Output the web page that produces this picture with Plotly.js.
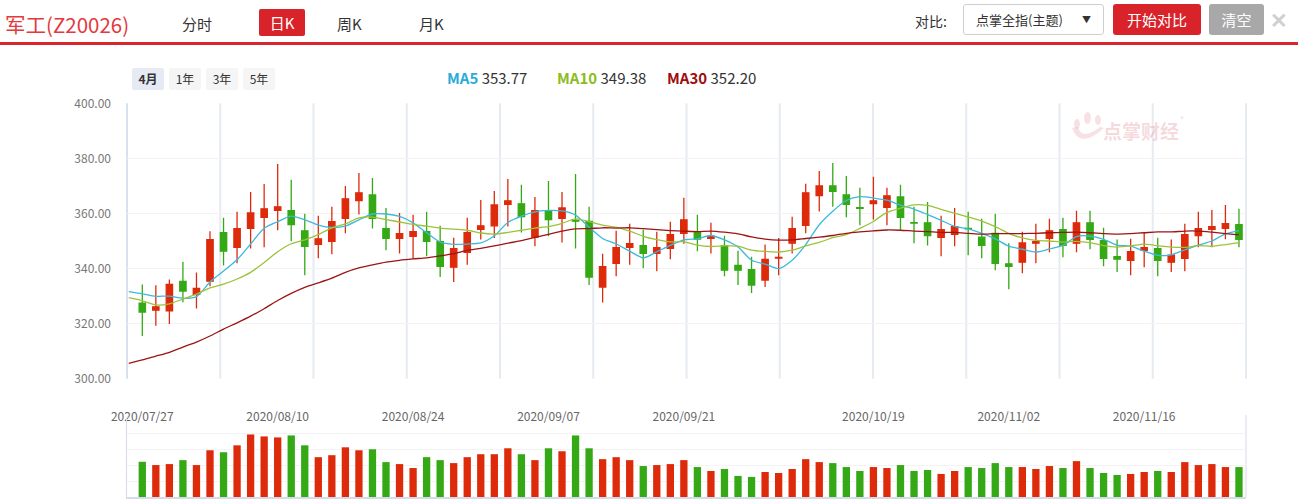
<!DOCTYPE html>
<html><head><meta charset="utf-8">
<script src="https://cdn.plot.ly/plotly-3.0.1.min.js"></script>
<style>
html,body{margin:0;padding:0;background:#fff;width:1298px;height:499px;overflow:hidden;font-family:"Noto Sans CJK SC","Noto Sans",sans-serif;}
#chart{position:absolute;left:0;top:0;width:1298px;height:499px;}
.abs{position:absolute;white-space:nowrap;}
.tab{top:11px;height:26px;line-height:26px;font-size:15px;color:#333;}
.rb{top:68px;height:22px;line-height:22px;width:32px;text-align:center;font-size:12px;color:#333;background:#f5f5f5;border-radius:2px;}
.lg{display:inline-block;width:110px;}
</style></head><body>
<div id="chart"></div>
<div class="abs" style="left:5px;top:9px;height:30px;line-height:30px;font-size:20.5px;color:#e4393c;">军工(Z20026)</div>
<div class="abs tab" style="left:182px;">分时</div>
<div class="abs" style="left:259px;top:9px;width:46px;height:27px;line-height:27px;text-align:center;background:#d9232a;color:#fff;font-size:15px;border-radius:2px;">日K</div>
<div class="abs tab" style="left:337px;">周K</div>
<div class="abs tab" style="left:419px;">月K</div>
<div class="abs" style="left:0;top:42px;width:1298px;height:3px;background:#d9262c;"></div>
<div class="abs" style="left:915px;top:9px;height:24px;line-height:24px;font-size:14px;color:#333;">对比:</div>
<div class="abs" style="left:963px;top:4px;width:139px;height:29px;border:1px solid #cfcfcf;border-radius:3px;"></div>
<div class="abs" style="left:976px;top:8px;height:24px;line-height:24px;font-size:13px;color:#333;">点掌全指(主题)</div>
<div class="abs" style="left:1082px;top:8px;height:24px;line-height:24px;font-size:9px;color:#333;">▼</div>
<div class="abs" style="left:1113px;top:4px;width:88px;height:31px;line-height:31px;text-align:center;background:#d9232a;color:#fff;font-size:15px;border-radius:3px;">开始对比</div>
<div class="abs" style="left:1209px;top:4px;width:55px;height:31px;line-height:31px;text-align:center;background:#a8a8a8;color:#fff;font-size:15px;border-radius:3px;">清空</div>
<div class="abs" style="left:1270px;top:4px;height:30px;line-height:30px;font-size:21px;font-weight:bold;color:#d0d0d0;">✕</div>
<div class="abs rb" style="left:132px;background:#e6eaf4;font-weight:bold;">4月</div>
<div class="abs rb" style="left:169px;">1年</div>
<div class="abs rb" style="left:206px;">3年</div>
<div class="abs rb" style="left:243px;">5年</div>
<div class="abs" id="legend" style="left:447px;top:66px;height:24px;line-height:24px;font-size:15px;color:#333;"></div>
<script>
// ---------- data ----------
const prevDate = '2020/07/24';
const dates = [
 '2020/07/27','2020/07/28','2020/07/29','2020/07/30','2020/07/31',
 '2020/08/03','2020/08/04','2020/08/05','2020/08/06','2020/08/07',
 '2020/08/10','2020/08/11','2020/08/12','2020/08/13','2020/08/14',
 '2020/08/17','2020/08/18','2020/08/19','2020/08/20','2020/08/21',
 '2020/08/24','2020/08/25','2020/08/26','2020/08/27','2020/08/28',
 '2020/08/31','2020/09/01','2020/09/02','2020/09/03','2020/09/04',
 '2020/09/07','2020/09/08','2020/09/09','2020/09/10','2020/09/11',
 '2020/09/14','2020/09/15','2020/09/16','2020/09/17','2020/09/18',
 '2020/09/21','2020/09/22','2020/09/23','2020/09/24','2020/09/25',
 '2020/09/28','2020/09/29','2020/09/30','2020/10/09',
 '2020/10/12','2020/10/13','2020/10/14','2020/10/15','2020/10/16',
 '2020/10/19','2020/10/20','2020/10/21','2020/10/22','2020/10/23',
 '2020/10/26','2020/10/27','2020/10/28','2020/10/29','2020/10/30',
 '2020/11/02','2020/11/03','2020/11/04','2020/11/05','2020/11/06',
 '2020/11/09','2020/11/10','2020/11/11','2020/11/12','2020/11/13',
 '2020/11/16','2020/11/17','2020/11/18','2020/11/19','2020/11/20',
 '2020/11/23','2020/11/24','2020/11/25'];
const open = [327.4,324.9,324.6,335.3,330.6,335.4,353.0,347.7,354.6,358.6,
 361.1,361.0,353.7,348.8,349.9,358.2,364.7,366.7,354.5,351.0,
 351.7,353.4,349.8,340.5,345.9,354.2,355.5,363.3,363.5,351.4,
 361.0,358.2,357.5,357.1,333.3,341.9,347.7,348.3,345.5,347.3,
 352.8,353.4,351.0,348.2,341.1,339.6,335.8,343.8,349.2,355.7,
 366.5,370.0,366.7,362.1,363.6,362.2,366.0,356.7,356.6,351.3,
 352.4,354.6,351.4,352.8,341.7,342.3,349.2,351.0,354.1,349.2,
 356.6,350.1,344.3,343.0,346.6,347.2,342.3,343.7,352.0,354.2,
 354.6,355.9];
const high = [334.2,333.9,336.0,342.5,338.6,353.5,358.4,360.6,367.8,370.7,
 378.0,372.2,359.9,359.2,362.4,370.0,374.7,372.9,362.0,360.2,
 359.5,360.6,355.5,351.2,358.4,364.9,368.2,372.5,370.4,366.0,
 371.8,367.8,374.3,362.4,345.4,353.7,356.3,354.1,353.4,357.0,
 365.7,359.5,356.6,351.9,346.5,344.3,348.7,351.1,358.8,370.8,
 375.4,378.3,373.6,369.3,373.3,369.3,370.4,362.4,364.2,359.2,
 362.0,360.6,358.1,359.9,349.2,353.4,356.3,358.1,358.4,361.0,
 361.0,354.8,350.5,350.8,353.0,351.2,350.5,356.3,360.6,361.3,
 363.1,361.7];
const low = [315.5,319.2,319.9,327.8,325.5,333.6,341.1,341.9,347.3,347.7,
 353.9,349.9,337.6,343.7,345.2,352.8,359.6,354.5,346.6,345.5,
 343.5,344.5,336.9,335.1,341.4,350.5,351.1,355.3,353.1,348.1,
 351.7,349.5,347.3,334.0,327.7,337.2,341.4,340.1,339.0,343.4,
 349.0,346.3,345.5,337.2,334.0,331.1,333.3,337.6,345.5,352.8,
 360.7,362.4,358.6,355.7,357.8,355.7,354.1,349.2,348.4,344.5,
 348.1,344.8,343.7,339.4,332.5,338.3,341.9,345.9,344.1,345.9,
 347.0,340.8,338.7,337.6,340.5,337.2,338.7,339.0,347.7,347.7,
 350.6,347.7];
const close = [324.2,326.1,334.2,331.8,332.8,350.5,346.3,354.5,360.2,361.7,
 362.4,356.0,348.1,350.8,357.0,365.3,367.5,358.2,351.0,352.7,
 353.4,349.9,340.8,347.2,353.0,355.5,363.1,364.6,358.9,361.0,
 357.8,362.0,357.2,336.9,340.7,347.6,349.0,345.5,347.6,352.3,
 357.7,350.7,351.7,339.4,339.4,334.0,343.3,344.0,354.5,367.5,
 370.0,368.0,363.3,361.9,364.6,366.4,358.6,356.5,352.0,354.1,
 355.2,354.4,348.4,341.9,340.8,349.3,349.8,353.7,348.4,356.6,
 350.6,343.7,343.4,346.1,347.6,343.0,344.9,352.3,354.5,355.2,
 356.3,350.6];
// moving averages (first value belongs to prevDate)
const ma5 = [331.6,330.8,329.9,330.0,329.2,329.8,335.1,339.1,343.2,348.9,354.6,
 357.0,359.0,357.7,355.8,354.9,355.4,357.7,359.8,359.8,358.9,
 356.6,353.0,349.6,348.8,348.9,349.3,351.9,356.7,359.0,360.6,
 361.1,360.9,359.4,355.0,350.9,348.9,346.3,343.9,346.1,348.4,
 350.4,350.8,352.0,350.4,347.8,343.0,341.6,340.0,343.0,348.7,
 355.9,360.8,364.7,366.1,365.6,364.8,363.0,361.6,359.6,357.5,
 355.3,354.4,352.8,350.8,348.1,347.0,346.0,347.1,348.4,351.6,
 351.8,350.6,348.5,348.1,346.3,344.8,345.0,346.8,348.5,350.0,
 352.6,353.8];
const ma10 = [329.4,328.3,326.8,327.2,328.9,330.7,333.0,334.3,336.2,338.6,342.2,
 346.1,349.0,350.4,352.3,354.8,356.2,358.4,358.7,357.8,356.9,
 356.0,355.4,354.7,354.3,353.9,352.9,352.5,353.1,353.9,354.7,
 355.2,356.4,358.0,357.0,355.8,355.0,353.6,351.7,350.5,349.7,
 349.7,348.5,348.0,348.2,348.1,346.7,346.2,346.0,346.7,348.2,
 349.5,351.2,352.3,354.6,357.1,360.4,361.9,363.1,362.9,361.5,
 360.1,358.7,357.2,355.2,352.8,351.1,350.2,350.0,349.6,349.9,
 349.4,348.3,347.8,348.2,348.9,348.3,347.8,347.7,348.3,348.1,
 348.7,349.4];
const ma30 = [305.6,306.8,308.2,309.6,311.5,313.3,315.5,318.0,320.3,322.7,325.4,
 328.4,331.0,333.2,334.8,336.5,338.6,340.2,341.3,342.3,343.0,
 343.5,343.9,344.6,345.4,346.6,347.3,348.2,349.2,350.1,351.3,
 352.4,353.6,354.4,354.5,354.8,354.7,354.8,354.5,354.1,353.8,
 353.6,353.4,353.6,353.2,352.6,351.5,350.7,350.3,350.4,350.9,
 351.4,352.0,352.8,353.3,353.7,354.0,353.9,353.6,353.4,353.1,
 353.1,352.8,352.5,352.7,352.7,352.7,352.8,353.0,353.1,353.2,
 353.0,352.7,352.5,352.7,353.0,353.3,353.3,353.6,353.6,353.2,
 352.7,352.2];
const volume = [107,97,100,112,97,142,136,157,190,184,
 181,187,157,121,127,151,142,145,106,100,
 88,121,112,103,121,130,130,148,130,112,
 148,139,187,148,115,121,112,94,97,100,
 112,91,79,85,64,61,76,73,85,115,
 106,103,91,79,91,88,97,79,82,70,
 79,91,88,103,91,91,85,94,88,109,
 88,73,67,70,76,79,76,106,97,100,
 91,91];
const tickDates = ['2020/07/27','2020/08/10','2020/08/24','2020/09/07','2020/09/21','2020/10/19','2020/11/02','2020/11/16'];
const maNames = ['MA5','MA10','MA30'];
const maLast = ['353.77','349.38','352.20'];
const priceTicks = [300,320,340,360,380,400];

// ---------- styles ----------
const RED = '#dd2a0a', GREEN = '#34a915';
const maColors = ['#3cb9dc','#9dc23a','#9b1515'];
const allDates = [prevDate].concat(dates);
const maDates = allDates;

document.getElementById('legend').innerHTML = maNames.map((n,k)=>
  '<span class="lg"><span style="color:'+['#29acd6','#8cbc1e','#9b0e0e'][k]+';font-weight:bold;">'+n+'</span> '+maLast[k]+'</span>'
).join('');

const traces = [];
traces.push({
  type:'candlestick', x:dates, open:open, high:high, low:low, close:close,
  xaxis:'x', yaxis:'y', whiskerwidth:0, hoverinfo:'skip', showlegend:false,
  increasing:{line:{color:RED,width:1.3}, fillcolor:RED},
  decreasing:{line:{color:GREEN,width:1.3}, fillcolor:GREEN}
});
[ma5,ma10,ma30].forEach((arr,k)=>{
  traces.push({type:'scatter', mode:'lines', x:maDates, y:arr, xaxis:'x', yaxis:'y',
    line:{color:maColors[k], width:1.3, shape:'spline', smoothing:0.7},
    hoverinfo:'skip', showlegend:false});
});
traces.push({type:'bar', x:dates, y:volume, xaxis:'x2', yaxis:'y2', width:0.54,
  marker:{color:close.map((c,i)=> c>=open[i]?RED:GREEN), line:{width:0}},
  hoverinfo:'skip', showlegend:false});

const W=1298,H=499, L=127, PW=1119;
const pyTop=103.3, pyBot=378.7, vTop=418, vBot=497;
const dom = (yb,yt)=>[(H-yb)/H,(H-yt)/H];
const px = x=>(x-L)/PW, py = y=>(H-y)/H;
const xRange=[-0.13, 82.52];

const shapes=[];
for(let k=0;k<=12;k++){
  shapes.push({type:'line', xref:'paper', yref:'paper', x0:k/12, x1:k/12,
    y0:py(pyBot), y1:py(pyTop), layer:'below',
    line:{color: k===0?'#cad8ea':'#e6ebf2', width: k===0?1.5:2}});
}
// volume panel right border
shapes.push({type:'line', xref:'paper', yref:'paper', x0:1, x1:1, y0:py(vBot), y1:py(415),
  layer:'below', line:{color:'#e3e8ef', width:1.5}});
// watermark logo (decorative)
const wm = 'rgba(222,120,132,0.22)';
[[1074,119,1080,129],[1084,112,1091,124],[1095,115,1101,125]].forEach(c=>{
  shapes.push({type:'circle', xref:'paper', yref:'paper', x0:px(c[0]), x1:px(c[2]), y0:py(c[3]), y1:py(c[1]),
    fillcolor:wm, line:{width:0}, layer:'below'});
});
shapes.push({type:'path', xref:'paper', yref:'paper', layer:'below', fillcolor:wm, line:{width:0},
  path:'M '+px(1072)+' '+py(128)+' Q '+px(1080)+' '+py(150)+' '+px(1104)+' '+py(128)+
       ' L '+px(1100)+' '+py(127)+' Q '+px(1082)+' '+py(141)+' '+px(1078)+' '+py(127)+' Z'});

const layout = {
  width:W, height:H, autosize:false,
  margin:{l:L, r:52, t:0, b:0, pad:0},
  paper_bgcolor:'#fff', plot_bgcolor:'rgba(0,0,0,0)',
  font:{family:'"Noto Sans CJK SC","Noto Sans",sans-serif', color:'#666'},
  showlegend:false, boxgap:0.33,
  xaxis:{type:'category', categoryorder:'array', categoryarray:allDates, range:xRange,
    rangeslider:{visible:false}, showgrid:false, zeroline:false, showline:false,
    tickmode:'array', tickvals:tickDates, ticktext:tickDates, ticks:'',
    ticklabelstandoff:29, tickfont:{size:12, color:'#666'}, anchor:'y', fixedrange:true},
  yaxis:{domain:dom(pyBot,pyTop), range:[300,400], tickmode:'array', tickvals:priceTicks,
    tickformat:'.2f', showgrid:true, gridcolor:'#f3f3f3', gridwidth:1, zeroline:false,
    showline:false, ticks:'', ticklabelstandoff:15, tickfont:{size:12, color:'#777'}, fixedrange:true},
  xaxis2:{type:'category', categoryorder:'array', categoryarray:allDates, range:xRange,
    matches:'x', anchor:'y2', showticklabels:false, showgrid:false, zeroline:false,
    showline:true, linecolor:'#d3dce8', linewidth:1.5, ticks:''},
  yaxis2:{domain:dom(vBot,vTop), range:[0,240], dtick:48, showticklabels:false,
    showgrid:true, gridcolor:'#f3f3f3', zeroline:false, showline:true, linecolor:'#d3dce8',
    linewidth:1.5, ticks:'', fixedrange:true},
  shapes:shapes,
  annotations:[
    {xref:'paper', yref:'paper', x:px(1141), y:py(130), xanchor:'center', yanchor:'middle',
     text:'<b>点掌财经</b>', showarrow:false, font:{size:19, color:'rgba(222,120,132,0.28)'}},
    {xref:'paper', yref:'paper', x:px(1182), y:py(118), xanchor:'center', yanchor:'middle',
     text:'®', showarrow:false, font:{size:8, color:'rgba(222,120,132,0.3)'}}
  ]
};
Plotly.newPlot('chart', traces, layout, {displayModeBar:false, staticPlot:true});
</script>
</body></html>
